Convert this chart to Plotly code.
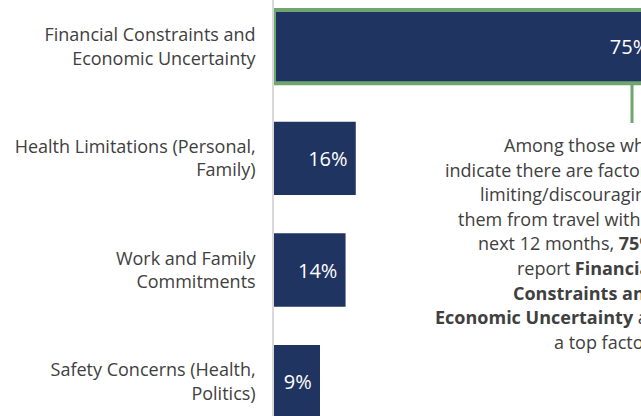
import plotly.graph_objects as go

# Survey results: factors limiting/discouraging travel in the next 12 months
categories = [
    "Financial Constraints and<br>Economic Uncertainty",
    "Health Limitations (Personal,<br>Family)",
    "Work and Family<br>Commitments",
    "Safety Concerns (Health,<br>Politics)",
]
shares = [75, 16, 14, 9]
highlighted = [True, False, False, False]

NAVY = "#1f3461"
GREEN = "#6fa56f"
GREY_TEXT = "#404040"

callout_lines = [
    "Among those who",
    "indicate there are factors",
    "limiting/discouraging",
    "them from travel within",
    "next 12 months, <b>75%</b>",
    "report <b>Financial</b>",
    "<b>Constraints and</b>",
    "<b>Economic Uncertainty</b> as",
    "a top factor.",
]

fig = go.Figure(
    go.Bar(
        x=shares,
        y=categories,
        orientation="h",
        width=0.656,
        marker=dict(
            color=NAVY,
            line=dict(
                color=[GREEN if h else NAVY for h in highlighted],
                width=[4 if h else 0 for h in highlighted],
            ),
        ),
        texttemplate="%{x}%\u00a0",
        textposition="inside",
        insidetextanchor="end",
        insidetextfont=dict(family="Open Sans", size=20, color="white"),
        hoverinfo="skip",
    )
)

fig.update_layout(
    width=641,
    height=416,
    margin=dict(l=274, r=0, t=0, b=0),
    paper_bgcolor="white",
    plot_bgcolor="white",
    showlegend=False,
    font=dict(family="Open Sans", color=GREY_TEXT),
    xaxis=dict(
        range=[0, 71.8],
        visible=False,
        fixedrange=True,
    ),
    yaxis=dict(
        range=[3.307, -0.417],
        showline=True,
        linecolor="#d9d9d9",
        linewidth=1.5,
        showgrid=False,
        zeroline=False,
        ticks="",
        ticklabelstandoff=13,
        tickfont=dict(family="Open Sans", size=18, color=GREY_TEXT),
        fixedrange=True,
    ),
)

# Connector from the highlighted bar down to the callout text
fig.add_shape(
    type="line",
    xref="paper", yref="paper",
    x0=0.9755, x1=0.9755,
    y0=1 - 84 / 416, y1=1 - 123 / 416,
    line=dict(color=GREEN, width=3),
)

# Callout paragraph, right-aligned, one line per annotation for even leading
LINE_TOP = 145.0
LINE_PITCH = 24.6
for i, line in enumerate(callout_lines):
    fig.add_annotation(
        xref="paper", yref="paper",
        x=1.0463, y=1 - (LINE_TOP + i * LINE_PITCH) / 416,
        xanchor="right", yanchor="middle",
        align="right",
        showarrow=False,
        text=line,
        font=dict(family="Open Sans", size=18, color=GREY_TEXT),
    )

fig.write_html("out.html")
